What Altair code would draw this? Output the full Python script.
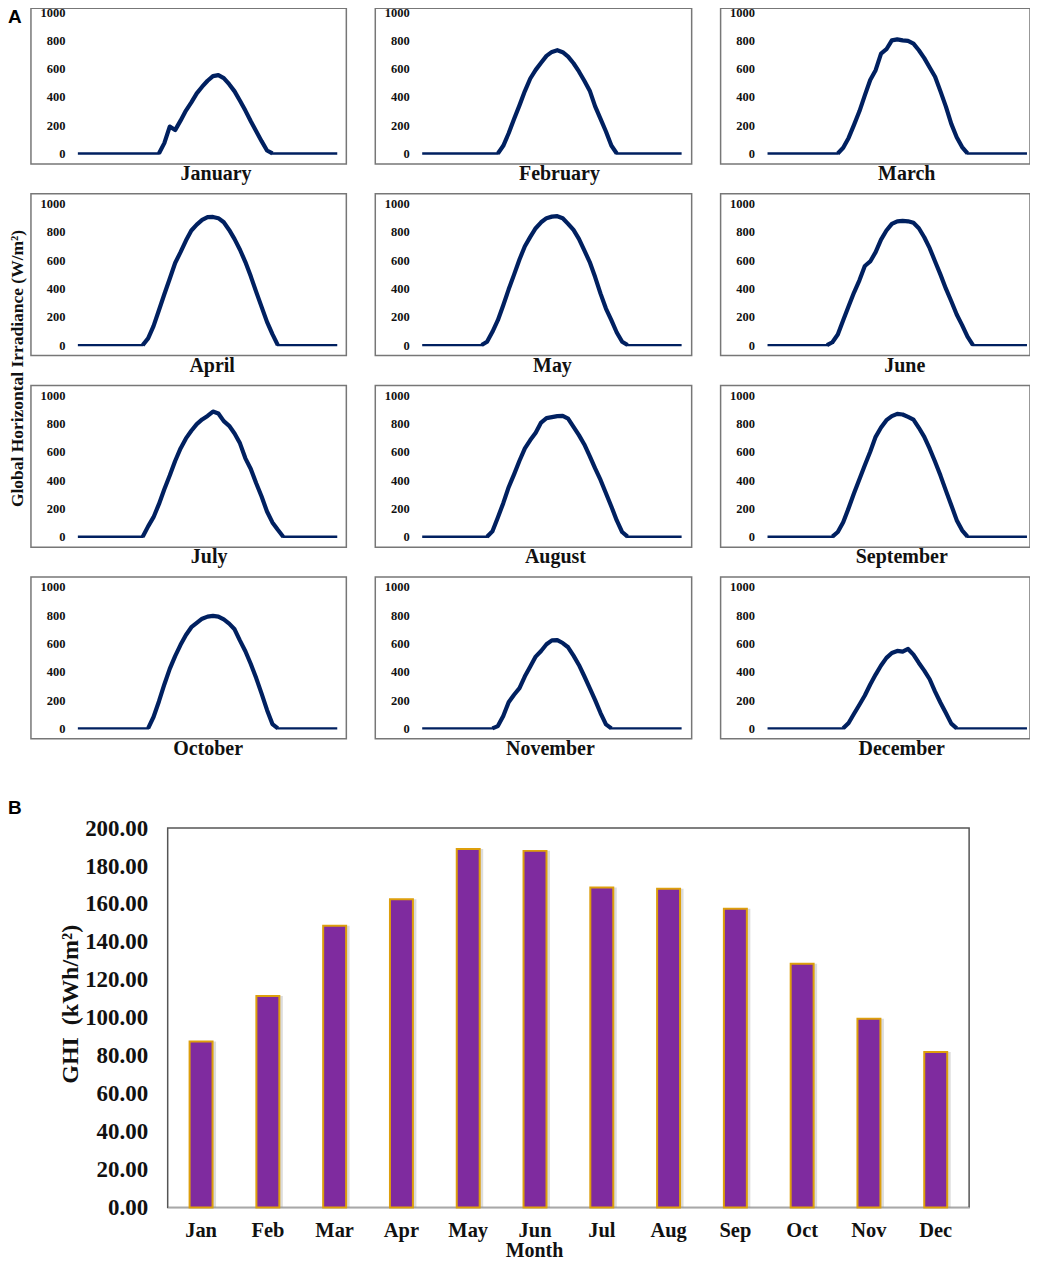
import altair as alt
import pandas as pd

SERIF = 'Liberation Serif'
HOURS = [k / 2 for k in range(49)]


def day_curve(first, values):
    # half-hourly readings, zero outside of daylight
    return [0] * first + values + [0] * (49 - first - len(values))


JAN = day_curve(16, [73, 190, 165, 232, 303, 361, 425, 472, 514, 547, 554, 533, 490, 439, 373, 303, 228, 157, 87, 21])
FEB = day_curve(15, [54, 143, 244, 340, 441, 530, 591, 641, 690, 718, 730, 716, 685, 638, 580, 514, 444, 333, 244, 155, 56])
MAR = day_curve(14, [40, 110, 202, 298, 411, 519, 589, 706, 737, 800, 807, 800, 796, 777, 730, 674, 608, 542, 439, 331, 209, 115, 45])
APR = day_curve(13, [47, 134, 246, 359, 469, 580, 657, 739, 810, 852, 885, 904, 906, 897, 868, 814, 749, 674, 587, 486, 376, 270, 164, 77])
MAY = day_curve(12, [23, 94, 176, 282, 394, 498, 605, 699, 765, 826, 868, 897, 908, 911, 897, 857, 814, 751, 669, 587, 481, 364, 258, 176, 89, 23])
JUN = day_curve(12, [20, 75, 176, 274, 371, 458, 559, 591, 657, 746, 810, 857, 875, 878, 875, 864, 826, 762, 685, 591, 498, 399, 310, 216, 141, 59])
JUL = day_curve(13, [73, 138, 230, 336, 432, 535, 624, 695, 749, 796, 829, 854, 885, 871, 817, 784, 730, 660, 554, 479, 378, 284, 178, 101, 49])
AUG = day_curve(13, [38, 136, 237, 350, 441, 537, 624, 683, 735, 807, 838, 845, 852, 854, 835, 777, 718, 652, 570, 483, 401, 307, 214, 115, 33])
SEP = day_curve(13, [33, 103, 202, 307, 406, 505, 601, 706, 772, 824, 852, 868, 864, 847, 828, 770, 706, 622, 530, 432, 326, 223, 117, 45])
OCT = day_curve(14, [80, 190, 310, 420, 510, 590, 660, 715, 745, 775, 790, 795, 790, 770, 740, 700, 620, 545, 455, 355, 245, 130, 30])
NOV = day_curve(14, [16, 87, 185, 237, 284, 368, 437, 507, 547, 594, 622, 624, 603, 573, 514, 448, 368, 284, 199, 108, 28])
DEC = day_curve(15, [38, 103, 167, 232, 310, 380, 444, 498, 533, 547, 542, 561, 521, 462, 408, 347, 260, 181, 108, 33])

MONTH_NAMES = ['January', 'February', 'March', 'April', 'May', 'June', 'July',
               'August', 'September', 'October', 'November', 'December']
MONTH_CURVES = [JAN, FEB, MAR, APR, MAY, JUN, JUL, AUG, SEP, OCT, NOV, DEC]
TITLE_X = [185, 184, 186, 181, 177, 184, 178, 180, 181, 177, 175, 181]
COL_WIDTH = [316, 317, 310]
COL_XMAX = [24.84, 24.93, 24.28]

MONTH_ABBR = ['Jan', 'Feb', 'Mar', 'Apr', 'May', 'Jun', 'Jul', 'Aug', 'Sep', 'Oct', 'Nov', 'Dec']
MONTH_GHI = [87.5, 111.5, 148.5, 162.5, 189, 188, 168.7, 168, 157.5, 128.5, 99.5, 82]


def panel(i):
    df = pd.DataFrame({'hour': HOURS, 'ghi': MONTH_CURVES[i]})
    # thick part of the curve runs down to the zero on both sides
    df['day'] = (df['ghi'] > 0) | (df['ghi'].shift(1) > 0) | (df['ghi'].shift(-1) > 0)
    # first row loses 6px on top to the page margin
    height = 156 if i < 3 else 162
    top = 1027 if i < 3 else 1069
    col = i % 3
    x = alt.X('hour:Q', scale=alt.Scale(domain=[-4.34, COL_XMAX[col]], nice=False),
              axis=alt.Axis(title=MONTH_NAMES[i], labels=False, ticks=False, domain=False, grid=False,
                            titleX=TITLE_X[i], titleY=9.5, titleBaseline='middle',
                            titleFont=SERIF, titleFontSize=20, titleFontWeight='bold', titleColor='#111'))
    y = alt.Y('ghi:Q', scale=alt.Scale(domain=[-74, top], nice=False),
              axis=alt.Axis(title=None, values=[0, 200, 400, 600, 800, 1000], format='d', ticks=False, domain=False,
                            grid=False, offset=-34, labelPadding=0, labelFont=SERIF, labelFontSize=12.5,
                            labelFontWeight='bold', labelColor='#111'))
    base = alt.Chart(df).encode(x=x, y=y)
    thin = base.mark_line(color='#002060', strokeWidth=2.4)
    thick = base.transform_filter('datum.day').mark_line(color='#002060', strokeWidth=4.2, strokeJoin='round')
    return (thin + thick).properties(width=COL_WIDTH[col], height=height,
                                     view=alt.ViewConfig(stroke='#777777', strokeWidth=1.5))


def side_strip(width, height, parts):
    layers = [alt.Chart(alt.Data(values=[{}])).mark_text(**style).encode(x=alt.value(px), y=alt.value(py))
              for px, py, style in parts]
    return alt.layer(*layers).properties(width=width, height=height, view=alt.ViewConfig(stroke=None))


letter = dict(font='Liberation Sans', fontSize=19, fontWeight='bold', color='black', align='left', baseline='middle')

strip_a = side_strip(22, 732, [
    (0, 9, dict(text='A', **letter)),
    (10, 361, dict(text='Global Horizontal Irradiance (W/m²)', font=SERIF, fontSize=17.5, fontWeight='bold',
                   color='#111', angle=270, align='center', baseline='middle')),
])

rows = [alt.hconcat(*[panel(r * 3 + c) for c in range(3)], spacing=27) for r in range(4)]
grid = alt.vconcat(*rows, spacing=8)

ghi = pd.DataFrame({'month': MONTH_ABBR, 'ghi': MONTH_GHI})
bar_x = alt.X('month:N', sort=MONTH_ABBR, scale=alt.Scale(paddingInner=0, paddingOuter=0),
              axis=alt.Axis(labelAngle=0, labelFont=SERIF, labelFontSize=20.5, labelFontWeight='bold', labelColor='#111',
                            labelPadding=13, ticks=False, domainColor='#c4c4c4', domainWidth=1.5,
                            title='Month', titleFont=SERIF, titleFontSize=20, titleFontWeight='bold', titleColor='#111',
                            titleX=367, titleY=43, titleBaseline='middle'))
bar_y = alt.Y('ghi:Q', scale=alt.Scale(domain=[0, 200], nice=False),
              axis=alt.Axis(values=list(range(0, 201, 20)), format='.2f', grid=False, ticks=False, domain=False,
                            labelFont=SERIF, labelFontSize=23, labelFontWeight='bold', labelColor='#111', labelPadding=20,
                            title='GHI\u00a0\u00a0(kWh/m²)', titleFont=SERIF, titleFontSize=24, titleFontWeight='bold',
                            titleColor='#111', titleX=-97, titleY=176, titleBaseline='middle'))
bar_base = alt.Chart(ghi).encode(x=bar_x, y=bar_y)
shadow = bar_base.mark_bar(size=27, color='#8a8a8a', opacity=0.3, xOffset=1.5)
bars = bar_base.mark_bar(size=23, color='#7f2b9f', stroke='#dd9f0c', strokeWidth=2)
bar_chart = (shadow + bars).properties(width=803, height=380,
                                       view=alt.ViewConfig(stroke='#555555', strokeWidth=1.5))

strip_b = side_strip(50, 380, [(0, -20, dict(text='B', **letter))])

chart = alt.vconcat(
    alt.hconcat(strip_a, grid, spacing=0),
    alt.hconcat(strip_b, bar_chart, spacing=0),
    spacing=39.5,
).properties(padding={'left': 0, 'top': -4, 'right': -3, 'bottom': -4}, background='white')

chart.save("out.html", embed_options={"renderer": "svg", "actions": False})
